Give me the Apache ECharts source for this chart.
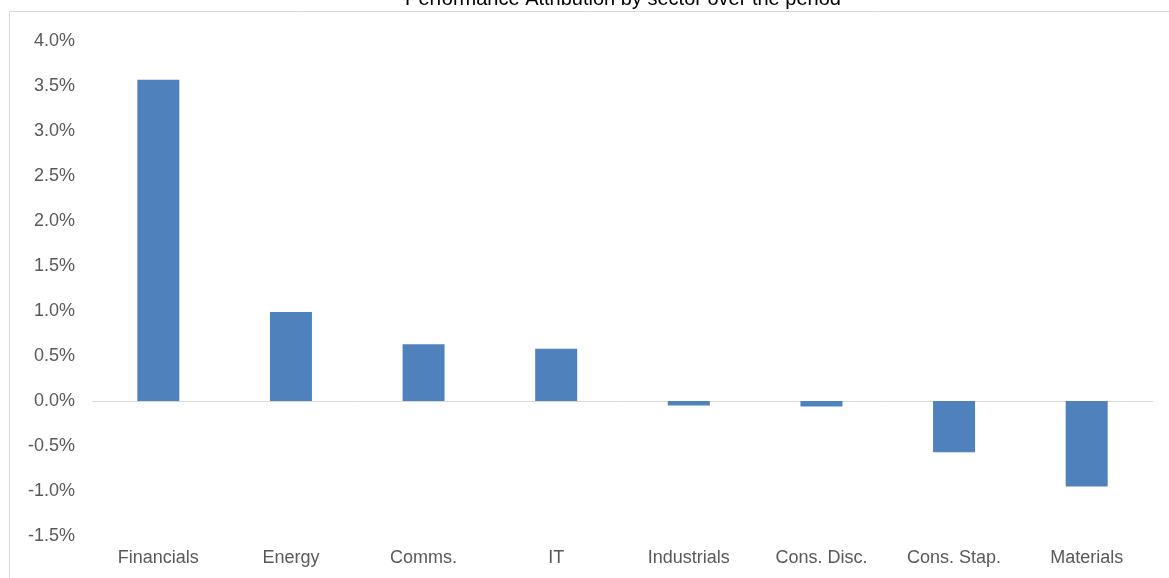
<!DOCTYPE html>
<html>
<head>
<meta charset="utf-8">
<script src="https://cdn.jsdelivr.net/npm/echarts@6/dist/echarts.min.js"></script>
<style>html,body{margin:0;padding:0;background:#fff;}#c{width:1169px;height:578px;}</style>
</head>
<body>
<div id="c"></div>
<script>
const categories = ['Financials', 'Energy', 'Comms.', 'IT', 'Industrials', 'Cons. Disc.', 'Cons. Stap.', 'Materials'];
const values = [3.57, 0.99, 0.63, 0.58, -0.05, -0.06, -0.57, -0.95];
const titleText = 'Performance Attribution by sector over the period';

const chart = echarts.init(document.getElementById('c'));
chart.setOption({
  animation: false,
  title: {
    text: titleText,
    left: 618, top: -16,
    textAlign: 'center',
    textStyle: { fontFamily: 'Liberation Sans', fontSize: 20, fontWeight: 'normal', color: '#000' }
  },
  graphic: [{
    type: 'rect', shape: { x: 9.5, y: 11.5, width: 1200, height: 600 },
    style: { fill: 'none', stroke: '#d9d9d9', lineWidth: 1 }, silent: true, z: -1
  }],
  grid: { left: 92, right: 16, top: 41, bottom: 42 },
  xAxis: {
    type: 'category', data: categories,
    axisLine: { show: false }, axisTick: { show: false },
    axisLabel: { margin: 13, fontFamily: 'Liberation Sans', fontSize: 18, color: '#595959' }
  },
  yAxis: {
    type: 'value', min: -1.5, max: 4, interval: 0.5,
    splitLine: { show: false }, axisLine: { show: false }, axisTick: { show: false },
    axisLabel: { margin: 17, fontFamily: 'Liberation Sans', fontSize: 18, color: '#595959',
      formatter: v => v.toFixed(1) + '%' }
  },
  series: [{
    type: 'bar', data: values, barWidth: 42,
    itemStyle: { color: '#4f81bd' },
    markLine: {
      silent: true, symbol: 'none', label: { show: false },
      lineStyle: { color: '#d9d9d9', type: 'solid', width: 1 },
      data: [{ yAxis: 0 }], z: 1
    }
  }]
});
</script>
</body>
</html>
